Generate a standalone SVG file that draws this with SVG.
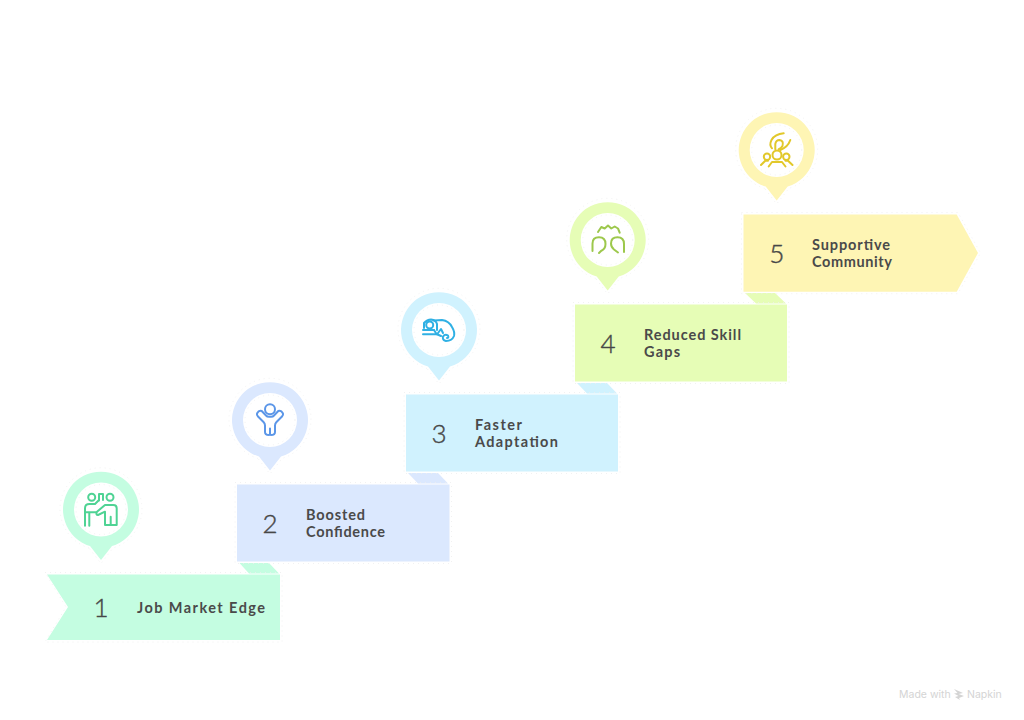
<svg xmlns="http://www.w3.org/2000/svg" width="1024" height="720" viewBox="0 0 1024 720">
<style>
.num{font-family:"Lato","Liberation Sans",sans-serif;font-size:26px;font-weight:300;fill:#474747;stroke:#474747;stroke-width:.4;text-anchor:middle}
.lbl{font-family:"Lato","Liberation Sans",sans-serif;font-size:14.500px;font-weight:700;fill:#4a4a4a}
.halo{fill:none;stroke:#ededed;stroke-width:.8;stroke-dasharray:1 4}
.ic{fill:none;stroke-width:2;stroke-linecap:round;stroke-linejoin:round}
.inner{fill:#fff}
.wm{font-family:"Inter","Liberation Sans",sans-serif;font-size:10.500px;fill:#d4d4d4}
</style>
<defs>
<path id="pin" d="M-11 36.500A38 38 0 1 1 11 36.500L0 50.500Z"/>
<path id="pinh" d="M-12 38.500A41 41 0 1 1 12 38.500L0 54Z"/>
</defs>
<rect width="1024" height="720" fill="#fff"/>
<g id="connectors">
<path d="M239.500 563H269L279 573.500H249Z" fill="#c4fde1"/>
<path d="M408 473H438L448 483.500H418Z" fill="#dbe8fe"/>
<path d="M577 383H607L617 393.500H587Z" fill="#d0f2fe"/>
<path d="M745 293H775L786 303.500H756Z" fill="#e6fdb6"/>
</g>
<g id="node-1">
<path class="halo" d="M45 572.500H282V642H45L66 607Z"/>
<path d="M47 574.500H280V640H47L68 607Z" fill="#c4fde1"/>
<use href="#pinh" x="101" y="509.500" class="halo"/>
<use href="#pin" x="101" y="509.500" fill="#c4fde1"/>
<circle class="inner" cx="101" cy="509.500" r="27"/>
<circle class="halo" cx="101" cy="509.500" r="25"/>
<g class="ic" stroke="#4fd394">
<circle cx="91.700" cy="497.300" r="3.500"/><circle cx="110" cy="497.300" r="3.500"/>
<path d="M99 500.500V494H103V500"/>
<path d="M85 525.700V508.300Q85 504 89.500 504H95L98.500 500.500"/>
<path d="M85 512.300H96"/>
<path d="M89.300 513V525.700"/>
<path d="M97 511.700L105 505H113.300Q116.700 505 116.700 508.300V525H110.700V516.700V525H105V511.700L98 515Q95.500 515 97 511.700Z"/>
</g>
<text class="num" x="101" y="617">1</text>
<text class="lbl" x="137" y="613" textLength="128">Job Market Edge</text>
</g>
<g id="node-2">
<path class="halo" d="M235 482.500H451.500V563.500H235Z"/>
<path d="M237 484.500H449.500V561.500H237Z" fill="#dbe8fe"/>
<use href="#pinh" x="270" y="420" class="halo"/>
<use href="#pin" x="270" y="420" fill="#dbe8fe"/>
<circle class="inner" cx="270" cy="420" r="27"/>
<circle class="halo" cx="270" cy="420" r="25"/>
<g class="ic" stroke="#5b96e8">
<circle cx="270" cy="409.300" r="5"/>
<path d="M261.700 411Q259 409.700 257 413.500Q256.500 415 258 416.500L263.500 422Q265 423.500 265 425.500V432Q265 435 269 435Q270 435 270 433V428.500V433Q270 435 271 435Q275 435 275 432V425.500Q275 423.500 276.500 422L282 416.500Q283.500 415 283 413.500Q281 409.700 278.300 411L274 415.500Q273 416.700 271 416.700H269Q267 416.700 266 415.500Z"/>
</g>
<text class="num" x="270" y="533">2</text>
<text class="lbl" x="306" y="520" textLength="59">Boosted</text>
<text class="lbl" x="306" y="537" textLength="79">Confidence</text>
</g>
<g id="node-3">
<path class="halo" d="M404 392.500H620V473.500H404Z"/>
<path d="M406 394.500H618V471.500H406Z" fill="#d0f2fe"/>
<use href="#pinh" x="439" y="330" class="halo"/>
<use href="#pin" x="439" y="330" fill="#d0f2fe"/>
<circle class="inner" cx="439" cy="330" r="27"/>
<circle class="halo" cx="439" cy="330" r="25"/>
<g class="ic" stroke="#2fb0e4">
<circle cx="429.700" cy="325" r="3.500"/>
<path d="M423 334.300H437.500M423 330H434"/>
<path d="M424 328V323Q427 319.500 431 319.500Q436 320 437 324V330"/>
<path d="M434 320.500L442 320Q449 321 452 327Q455 332 454 336Q452 341 446 341Q442 340 443 336.500Q445 333.500 448 335.500Q449 338 447 338"/>
<path d="M434 330L436.500 334L441 336M438 333L441 329L443 333"/>
</g>
<text class="num" x="439" y="443">3</text>
<text class="lbl" x="475" y="430" textLength="47">Faster</text>
<text class="lbl" x="475" y="447" textLength="83">Adaptation</text>
</g>
<g id="node-4">
<path class="halo" d="M573 302.500H789V383.500H573Z"/>
<path d="M575 304.500H787V381.500H575Z" fill="#e6fdb6"/>
<use href="#pinh" x="607.700" y="240" class="halo"/>
<use href="#pin" x="607.700" y="240" fill="#e6fdb6"/>
<circle class="inner" cx="607.700" cy="240" r="27"/>
<circle class="halo" cx="607.700" cy="240" r="25"/>
<g class="ic" stroke="#9dc84c">
<path d="M598 232L601.300 227L604.700 228.500L608 225.500L611.300 228.500L614.700 226.500L618 228.500L619.700 232.700"/>
<path d="M592.500 251V243.500Q592.500 237.300 599 237.300Q605.500 237.300 605.500 244Q605.500 249 601 251L599 253"/>
<path d="M624 252V244Q624 237.300 617.500 237.300Q611 237.300 611 243.500Q611 247 614 249.500L618 252.500"/>
</g>
<text class="num" x="608" y="353">4</text>
<text class="lbl" x="644" y="340" textLength="97">Reduced Skill</text>
<text class="lbl" x="644" y="357" textLength="36">Gaps</text>
</g>
<g id="node-5">
<path class="halo" d="M741.500 212.500H958L980.500 253L958 293.700H741.500Z"/>
<path d="M743.500 214.500H956.700L978 253L956.700 291.700H743.500Z" fill="#fef5b4"/>
<use href="#pinh" x="776.700" y="150" class="halo"/>
<use href="#pin" x="776.700" y="150" fill="#fef5b4"/>
<circle class="inner" cx="776.700" cy="150" r="27"/>
<circle class="halo" cx="776.700" cy="150" r="25"/>
<g class="ic" stroke="#e2c82a">
<path d="M783.700 133.300Q775 134 771.500 140Q769 145 772 148.300"/>
<path d="M775.300 149.300V144Q776 140 779.500 140Q784 140.500 782.500 146Q781 148.500 778.700 149.300"/>
<path d="M790.300 140Q788 147 780.300 150"/>
<circle cx="777" cy="155" r="4.500"/><circle cx="767" cy="156.700" r="3.200"/><circle cx="786.300" cy="156.700" r="3.200"/>
<path d="M768.700 166.500L772 162H782L785.500 166.500"/>
<path d="M761 165L765.300 160.700H768M792.500 165L788 160.700H785.500"/>
</g>
<text class="num" x="776.700" y="263">5</text>
<text class="lbl" x="812" y="250" textLength="78">Supportive</text>
<text class="lbl" x="812" y="267" textLength="80">Community</text>
</g>
<g id="watermark">
<text class="wm" x="899" y="698">Made with</text>
<path d="M954 689L963 693L958.500 694L964 696L959 698L960 700L955 697L958.500 696L954 693.500L957.500 693Z" fill="#d4d4d4"/>
<text class="wm" x="967" y="698">Napkin</text>
</g>
</svg>
